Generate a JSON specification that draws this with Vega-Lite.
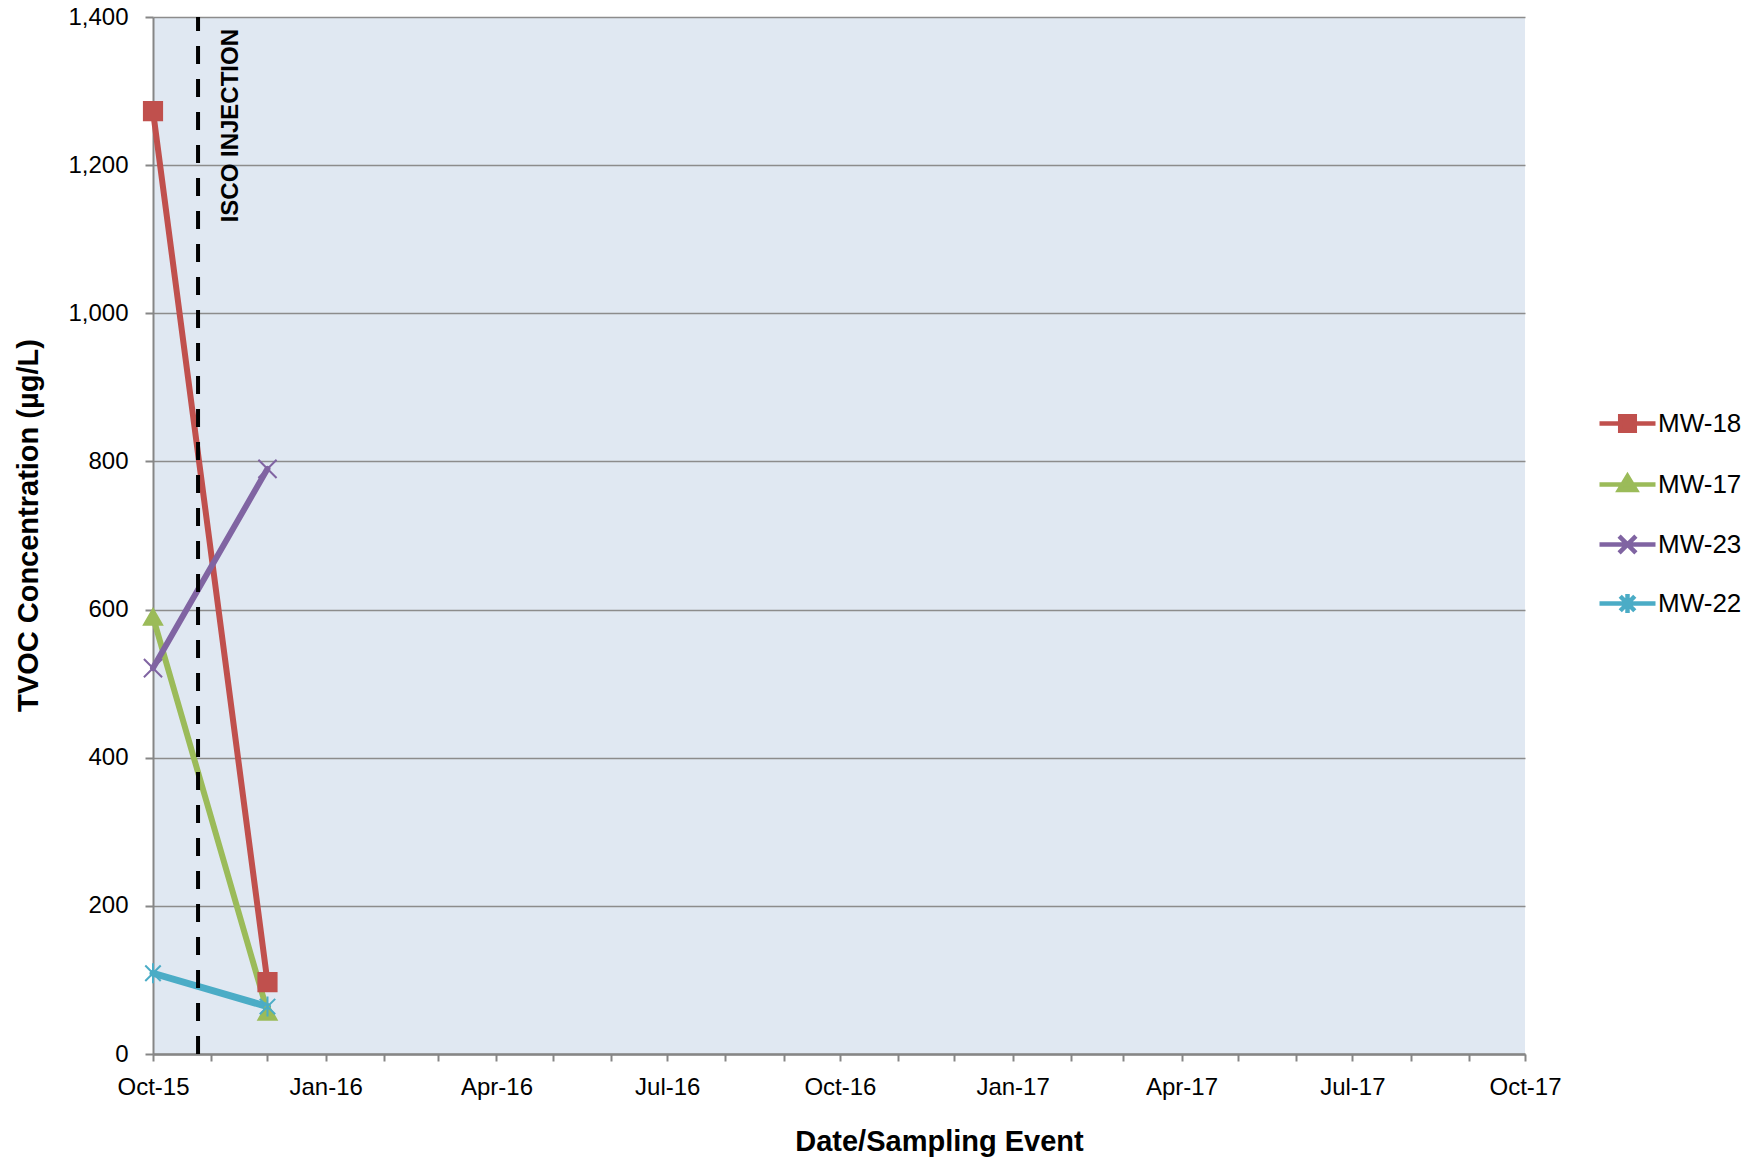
{
  "$schema": "https://vega.github.io/schema/vega-lite/v6.json",
  "width": 1372,
  "height": 1037,
  "autosize": {"type": "none"},
  "padding": {"left": 153, "top": 17, "right": 233, "bottom": 106},
  "background": "white",
  "config": {
    "font": "Liberation Sans",
    "view": {"fill": "#e0e8f2", "stroke": null},
    "axis": {
      "labelFont": "Liberation Sans",
      "labelFontSize": 24,
      "labelColor": "#000000",
      "titleFont": "Liberation Sans",
      "titleFontSize": 29,
      "titleFontWeight": "bold",
      "titleColor": "#000000",
      "domainColor": "#868686",
      "domainWidth": 2,
      "tickColor": "#868686",
      "tickWidth": 2,
      "gridColor": "#8c8c8c",
      "gridWidth": 1.5
    },
    "legend": {
      "labelFont": "Liberation Sans",
      "labelFontSize": 26,
      "labelColor": "#000000",
      "title": null,
      "orient": "none",
      "padding": 0,
      "symbolSize": 3136,
      "symbolStrokeWidth": 4.5,
      "symbolOpacity": 1,
      "labelOffset": 0,
      "labelLimit": 300
    }
  },
  "datasets": {
    "tvoc": [
      {"well": "MW-18", "date": "2015-10-01T00:00:00", "tvoc": 1273},
      {"well": "MW-18", "date": "2015-12-01T00:00:00", "tvoc": 97},
      {"well": "MW-17", "date": "2015-10-01T00:00:00", "tvoc": 590},
      {"well": "MW-17", "date": "2015-12-01T00:00:00", "tvoc": 57},
      {"well": "MW-23", "date": "2015-10-01T00:00:00", "tvoc": 521},
      {"well": "MW-23", "date": "2015-12-01T00:00:00", "tvoc": 790},
      {"well": "MW-22", "date": "2015-10-01T00:00:00", "tvoc": 109},
      {"well": "MW-22", "date": "2015-12-01T00:00:00", "tvoc": 64}
    ],
    "injection": [
      {"event": "ISCO INJECTION", "date": "2015-10-25T00:00:00", "low": 0, "high": 1400}
    ]
  },
  "layer": [
    {
      "data": {"name": "tvoc"},
      "transform": [{"filter": "datum.well != 'MW-22'"}],
      "mark": {"type": "line", "strokeWidth": 6, "strokeCap": "round", "strokeJoin": "round"},
      "encoding": {
        "x": {
          "field": "date",
          "type": "temporal",
          "title": "Date/Sampling Event",
          "scale": {
            "domain": [{"year": 2015, "month": 10, "date": 1}, {"year": 2017, "month": 10, "date": 1}],
            "nice": false
          },
          "axis": {
            "grid": false,
            "values": [
              {"year": 2015, "month": 10, "date": 1}, {"year": 2015, "month": 11, "date": 1}, {"year": 2015, "month": 12, "date": 1},
              {"year": 2016, "month": 1, "date": 1}, {"year": 2016, "month": 2, "date": 1}, {"year": 2016, "month": 3, "date": 1},
              {"year": 2016, "month": 4, "date": 1}, {"year": 2016, "month": 5, "date": 1}, {"year": 2016, "month": 6, "date": 1},
              {"year": 2016, "month": 7, "date": 1}, {"year": 2016, "month": 8, "date": 1}, {"year": 2016, "month": 9, "date": 1},
              {"year": 2016, "month": 10, "date": 1}, {"year": 2016, "month": 11, "date": 1}, {"year": 2016, "month": 12, "date": 1},
              {"year": 2017, "month": 1, "date": 1}, {"year": 2017, "month": 2, "date": 1}, {"year": 2017, "month": 3, "date": 1},
              {"year": 2017, "month": 4, "date": 1}, {"year": 2017, "month": 5, "date": 1}, {"year": 2017, "month": 6, "date": 1},
              {"year": 2017, "month": 7, "date": 1}, {"year": 2017, "month": 8, "date": 1}, {"year": 2017, "month": 9, "date": 1},
              {"year": 2017, "month": 10, "date": 1}
            ],
            "labelExpr": "month(datum.value) % 3 == 0 ? timeFormat(datum.value, '%b-%y') : ''",
            "labelBaseline": "alphabetic",
            "labelAlign": "center",
            "labelPadding": 33,
            "labelOverlap": false,
            "labelFlush": false,
            "tickSize": 7,
            "domainWidth": 2.5,
            "titleX": 786,
            "titleY": 96,
            "titleBaseline": "alphabetic",
            "titleAnchor": null
          }
        },
        "y": {
          "field": "tvoc",
          "type": "quantitative",
          "title": "TVOC Concentration (µg/L)",
          "scale": {"domain": [0, 1400], "nice": false},
          "axis": {
            "values": [0, 200, 400, 600, 800, 1000, 1200, 1400],
            "format": ",d",
            "tickSize": 8,
            "labelPadding": 17,
            "titleX": -116,
            "titleY": 508,
            "titleBaseline": "alphabetic",
            "titleAngle": 270
          }
        },
        "color": {
          "field": "well",
          "type": "nominal",
          "scale": {"domain": ["MW-18", "MW-17", "MW-23", "MW-22"], "range": ["#c0504d", "#9bbb59", "#8064a2", "#4bacc6"]},
          "legend": null
        }
      }
    },
    {
      "data": {"name": "tvoc"},
      "transform": [{"filter": "datum.well == 'MW-22'"}],
      "mark": {"type": "line", "strokeWidth": 7, "strokeCap": "round", "strokeJoin": "round"},
      "encoding": {
        "x": {"field": "date", "type": "temporal"},
        "y": {"field": "tvoc", "type": "quantitative"},
        "color": {"field": "well", "type": "nominal", "legend": null}
      }
    },
    {
      "data": {"name": "tvoc"},
      "mark": {"type": "point", "filled": true, "size": 330, "strokeWidth": 2, "opacity": 1},
      "encoding": {
        "x": {"field": "date", "type": "temporal"},
        "y": {"field": "tvoc", "type": "quantitative"},
        "shape": {
          "field": "well",
          "type": "nominal",
          "scale": {
            "domain": ["MW-18", "MW-17", "MW-23", "MW-22"],
            "range": ["square", "triangle-up", "M-1,-1L1,1M-1,1L1,-1", "M-0.85,-0.85L0.85,0.85M-0.85,0.85L0.85,-0.85M0,-1.1L0,1.1"]
          },
          "legend": null
        },
        "fill": {
          "field": "well",
          "type": "nominal",
          "scale": {"domain": ["MW-18", "MW-17", "MW-23", "MW-22"], "range": ["#c0504d", "#9bbb59", "#8064a2", "#4bacc6"]},
          "legend": null
        },
        "stroke": {
          "field": "well",
          "type": "nominal",
          "scale": {"domain": ["MW-18", "MW-17", "MW-23", "MW-22"], "range": ["#c0504d", "#9bbb59", "#8064a2", "#4bacc6"]},
          "legend": null
        }
      }
    },
    {
      "data": {"name": "tvoc"},
      "transform": [{"filter": "false"}],
      "mark": {"type": "point", "filled": true, "color": "#c0504d", "stroke": "#c0504d", "strokeWidth": 4.5, "opacity": 1},
      "encoding": {
        "x": {"field": "date", "type": "temporal"},
        "y": {"field": "tvoc", "type": "quantitative"},
        "shape": {
          "field": "well",
          "type": "nominal",
          "scale": {"domain": ["MW-18"], "range": ["M-1,0L1,0M-0.26,-0.26L0.26,-0.26L0.26,0.26L-0.26,0.26Z"]},
          "legend": {"legendX": 1444, "legendY": 376}
        }
      }
    },
    {
      "data": {"name": "tvoc"},
      "transform": [{"filter": "false"}],
      "mark": {"type": "point", "filled": true, "color": "#9bbb59", "stroke": "#9bbb59", "strokeWidth": 4.5, "opacity": 1},
      "encoding": {
        "x": {"field": "date", "type": "temporal"},
        "y": {"field": "tvoc", "type": "quantitative"},
        "shape": {
          "field": "well",
          "type": "nominal",
          "scale": {"domain": ["MW-17"], "range": ["M-1,0L1,0M0,-0.3L0.3,0.2L-0.3,0.2Z"]},
          "legend": {"legendX": 1444, "legendY": 437}
        }
      }
    },
    {
      "data": {"name": "tvoc"},
      "transform": [{"filter": "false"}],
      "mark": {"type": "point", "filled": true, "color": "#8064a2", "stroke": "#8064a2", "strokeWidth": 4.5, "opacity": 1},
      "encoding": {
        "x": {"field": "date", "type": "temporal"},
        "y": {"field": "tvoc", "type": "quantitative"},
        "shape": {
          "field": "well",
          "type": "nominal",
          "scale": {"domain": ["MW-23"], "range": ["M-1,0L1,0M-0.3,-0.3L0.3,0.3M-0.3,0.3L0.3,-0.3"]},
          "legend": {"legendX": 1444, "legendY": 497}
        }
      }
    },
    {
      "data": {"name": "tvoc"},
      "transform": [{"filter": "false"}],
      "mark": {"type": "point", "filled": true, "color": "#4bacc6", "stroke": "#4bacc6", "strokeWidth": 4.5, "opacity": 1},
      "encoding": {
        "x": {"field": "date", "type": "temporal"},
        "y": {"field": "tvoc", "type": "quantitative"},
        "shape": {
          "field": "well",
          "type": "nominal",
          "scale": {"domain": ["MW-22"], "range": ["M-1,0L1,0M-0.26,-0.26L0.26,0.26M-0.26,0.26L0.26,-0.26M0,-0.34L0,0.34"]},
          "legend": {"legendX": 1444, "legendY": 556}
        }
      }
    },
    {
      "data": {"name": "injection"},
      "mark": {"type": "rule", "color": "#000000", "strokeWidth": 4, "strokeDash": [18, 15]},
      "encoding": {
        "x": {"field": "date", "type": "temporal"},
        "y": {"field": "low", "type": "quantitative"},
        "y2": {"field": "high"}
      }
    },
    {
      "data": {"name": "injection"},
      "mark": {
        "type": "text",
        "angle": 270,
        "align": "right",
        "baseline": "middle",
        "dx": -12,
        "dy": 33,
        "font": "Liberation Sans",
        "fontSize": 24,
        "fontWeight": "bold",
        "color": "#000000"
      },
      "encoding": {
        "x": {"field": "date", "type": "temporal"},
        "y": {"field": "high", "type": "quantitative"},
        "text": {"field": "event"}
      }
    }
  ],
  "resolve": {"scale": {"shape": "independent"}}
}
